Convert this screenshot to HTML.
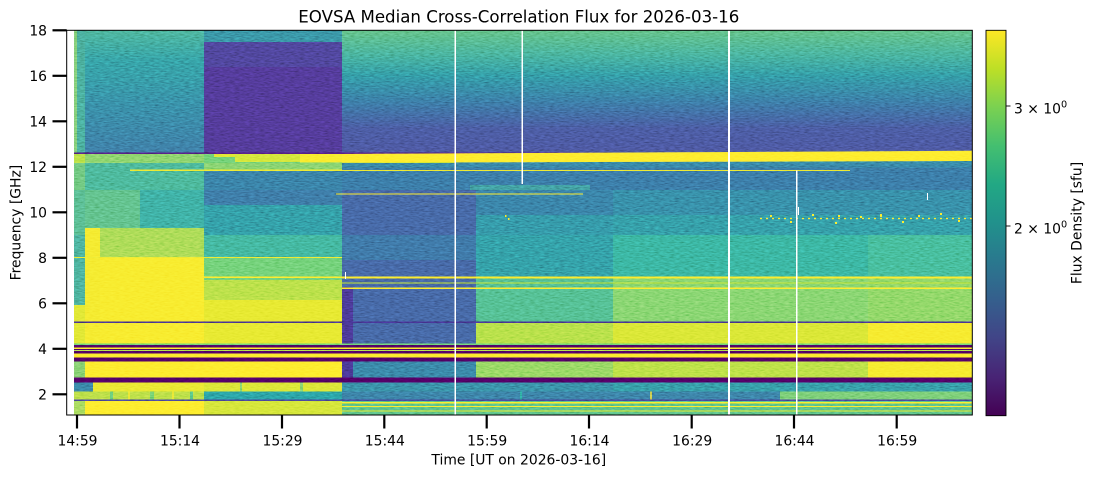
<!DOCTYPE html>
<html>
<head>
<meta charset="utf-8">
<style>
html,body{margin:0;padding:0;background:#fff;}
svg{display:block;}
text{font-family:"DejaVu Sans","Liberation Sans",sans-serif;fill:#000;}
</style>
</head>
<body>
<svg width="1093" height="477" viewBox="0 0 1093 477" xmlns="http://www.w3.org/2000/svg">
<defs>
<linearGradient id="vir" x1="0" y1="0" x2="0" y2="1">
<stop offset="0" stop-color="#fde725"/>
<stop offset="0.1" stop-color="#bddf26"/>
<stop offset="0.2" stop-color="#7ad151"/>
<stop offset="0.3" stop-color="#44bf70"/>
<stop offset="0.4" stop-color="#22a884"/>
<stop offset="0.5" stop-color="#21918c"/>
<stop offset="0.6" stop-color="#2a788e"/>
<stop offset="0.7" stop-color="#355f8d"/>
<stop offset="0.8" stop-color="#414487"/>
<stop offset="0.9" stop-color="#482475"/>
<stop offset="1" stop-color="#440154"/>
</linearGradient>
<linearGradient id="upR" gradientUnits="userSpaceOnUse" x1="0" y1="30" x2="0" y2="153">
<stop offset="0" stop-color="#52b06f"/>
<stop offset="0.2" stop-color="#3c9d81"/>
<stop offset="0.37" stop-color="#2a7f8c"/>
<stop offset="0.57" stop-color="#30688d"/>
<stop offset="0.8" stop-color="#3d4b87"/>
<stop offset="1" stop-color="#3f4886"/>
</linearGradient>
<linearGradient id="upB" gradientUnits="userSpaceOnUse" x1="0" y1="30" x2="0" y2="153">
<stop offset="0" stop-color="#40a07f"/>
<stop offset="0.25" stop-color="#2c868c"/>
<stop offset="0.6" stop-color="#2e758e"/>
<stop offset="1" stop-color="#33678d"/>
</linearGradient>
<filter id="nz" x="0" y="0" width="100%" height="100%">
<feTurbulence type="fractalNoise" baseFrequency="0.2 0.8" numOctaves="2" seed="7" result="t"/>
<feColorMatrix in="t" type="matrix" values="1 0 0 0 0  1 0 0 0 0  1 0 0 0 0  0 0 0 0 1"/>
</filter>
</defs>

<g shape-rendering="crispEdges">
<rect x="74" y="30" width="898" height="385" fill="#2c728e"/>

<!-- ===== Upper band 30-153 ===== -->
<rect x="74" y="30" width="3" height="123" fill="#6cbf63"/>
<rect x="77" y="30" width="8" height="123" fill="#3d9882"/>
<rect x="85" y="30" width="119" height="123" fill="url(#upB)"/>
<rect x="204" y="30" width="138" height="12" fill="#2f7a8c"/>
<rect x="204" y="42" width="138" height="25" fill="#41397f"/>
<rect x="204" y="67" width="138" height="86" fill="#44307d"/>
<rect x="342" y="30" width="630" height="123" fill="url(#upR)"/>

<rect x="74" y="152.5" width="898" height="1.5" fill="#46196e"/>

<!-- ===== Yellow band 153-163 ===== -->
<rect x="74" y="154" width="11" height="9" fill="#a6d83a"/>
<rect x="85" y="154" width="119" height="9" fill="#74c85a"/>
<rect x="204" y="154" width="138" height="9" fill="#5ec462"/>
<rect x="214" y="154" width="21" height="3" fill="#d8e12b"/>
<rect x="235" y="154" width="65" height="8" fill="#c8e030"/>
<rect x="300" y="154" width="42" height="8.5" fill="#f6e626"/>
</g>
<polygon points="342,154 972,150.8 972,161 342,162.7" fill="#fde725"/>
<polygon points="342,162.7 455,162.3 455,164.5 342,167.5" fill="#b5de2b"/>

<g shape-rendering="crispEdges">
<!-- ===== 163-190 ===== -->
<rect x="74" y="163" width="11" height="27" fill="#5db96a"/>
<rect x="85" y="163" width="119" height="27" fill="#3ea37e"/>
<rect x="204" y="163" width="138" height="7" fill="#6fc65c"/>
<rect x="204" y="171" width="138" height="19" fill="#2f6a8d"/>
<rect x="342" y="167.5" width="630" height="22.5" fill="#30658d"/>
<rect x="342" y="163" width="630" height="4.5" fill="#2e6f8e"/>
<rect x="130" y="169.5" width="212" height="1.5" fill="#e8e42a"/>
<rect x="342" y="169.8" width="508" height="1.2" fill="#e8e42a"/>
<rect x="470" y="185" width="120" height="7" fill="#3a9a83" opacity="0.6"/>

<!-- ===== 190-235 ===== -->
<rect x="74" y="190" width="11" height="45" fill="#4aaa78"/>
<rect x="85" y="190" width="55" height="38" fill="#50b073"/>
<rect x="140" y="190" width="64" height="45" fill="#33998a"/>
<rect x="204" y="190" width="138" height="15" fill="#32658d"/>
<rect x="204" y="205" width="138" height="30" fill="#2a828d"/>
<rect x="342" y="190" width="134" height="155" fill="#39558b"/>
<rect x="342" y="235" width="134" height="25" fill="#33628d"/>
<rect x="476" y="190" width="137" height="25" fill="#2f6b8e"/>
<rect x="476" y="215" width="137" height="20" fill="#2b7c8e"/>
<rect x="613" y="190" width="359" height="25" fill="#2d748e"/>
<rect x="613" y="215" width="359" height="20" fill="#2b808d"/>
<rect x="336" y="193.5" width="247" height="1.2" fill="#fde725"/>

<!-- ===== 235-345 ===== -->
<rect x="74" y="235" width="11" height="70" fill="#3f9c82"/>
<rect x="74" y="305" width="11" height="40" fill="#d8e12b"/>
<rect x="85" y="228" width="15" height="117" fill="#f2e527"/>
<rect x="100" y="228" width="104" height="30" fill="#93d147"/>
<rect x="100" y="258" width="104" height="87" fill="#f6e626"/>
<rect x="204" y="235" width="138" height="23" fill="#37a283"/>
<rect x="204" y="258" width="138" height="22" fill="#5ec463"/>
<rect x="204" y="280" width="138" height="20" fill="#a6d83c"/>
<rect x="204" y="300" width="138" height="45" fill="#e0e328"/>
<rect x="342" y="287" width="11" height="90" fill="#3e2f7c"/>
<rect x="476" y="235" width="137" height="43" fill="#2a838d"/>
<rect x="476" y="278" width="137" height="44" fill="#45ad78"/>
<rect x="476" y="322" width="137" height="23" fill="#a2d83c"/>
<rect x="613" y="235" width="255" height="43" fill="#30a086"/>
<rect x="613" y="278" width="255" height="44" fill="#6fc95c"/>
<rect x="613" y="322" width="255" height="23" fill="#cfe02c"/>
<rect x="868" y="235" width="104" height="43" fill="#3aaa7f"/>
<rect x="868" y="278" width="104" height="44" fill="#76cc55"/>
<rect x="868" y="322" width="104" height="23" fill="#f4e526"/>

<rect x="74" y="257" width="268" height="1.2" fill="#e9e52a"/>
<rect x="204" y="276.5" width="138" height="1.5" fill="#fde725"/>
<rect x="342" y="276.7" width="630" height="2" fill="#fde725"/>
<rect x="342" y="282.6" width="630" height="1" fill="#b5de2b"/>
<rect x="342" y="287.6" width="630" height="1.5" fill="#fde725"/>
<rect x="74" y="321.6" width="898" height="1.5" fill="#3a2a78"/>

<!-- ===== 4.2-3.4 GHz stripes ===== -->
<rect x="74" y="343.5" width="898" height="1.5" fill="#5ec962"/>
<rect x="74" y="345" width="898" height="2.5" fill="#440154"/>
<rect x="74" y="347.5" width="898" height="1.5" fill="#fde725"/>
<rect x="74" y="349" width="898" height="1" fill="#440154"/>
<rect x="74" y="350" width="898" height="1" fill="#9fd940"/>
<rect x="74" y="351" width="898" height="2.5" fill="#440154"/>
<rect x="74" y="353.5" width="898" height="4" fill="#fde725"/>
<rect x="74" y="357.5" width="898" height="4" fill="#440154"/>

<rect x="74" y="361.5" width="11" height="16.2" fill="#6fc35e"/>
<rect x="85" y="361.5" width="257" height="16.2" fill="#fde725"/>
<rect x="342" y="361.5" width="134" height="16.2" fill="#2f6f8e"/>
<rect x="342" y="361.5" width="11" height="16.2" fill="#3e2f7c"/>
<rect x="476" y="361.5" width="137" height="16.2" fill="#7ccd52"/>
<rect x="613" y="361.5" width="255" height="16.2" fill="#a8d93a"/>
<rect x="868" y="361.5" width="104" height="16.2" fill="#f4e526"/>

<rect x="74" y="377.7" width="898" height="5" fill="#440154"/>

<rect x="74" y="382.7" width="19" height="9" fill="#2f6e8e"/>
<rect x="93" y="382.7" width="111" height="9" fill="#e4e329"/>
<rect x="204" y="382.7" width="138" height="9" fill="#d0e02d"/>
<rect x="342" y="382.7" width="271" height="9" fill="#2f778e"/>
<rect x="613" y="382.7" width="359" height="9" fill="#2c808d"/>

<rect x="74" y="391.7" width="130" height="8" fill="#a8d63b"/>
<rect x="204" y="391.7" width="138" height="8" fill="#23888c"/>
<rect x="342" y="391.7" width="438" height="8" fill="#316b8e"/>
<rect x="780" y="391.7" width="192" height="8" fill="#66c162"/>

<rect x="74" y="399.7" width="898" height="1.3" fill="#3b3a80"/>

<rect x="74" y="401" width="11" height="14" fill="#8dd04d"/>
<rect x="85" y="401" width="119" height="14" fill="#fde725"/>
<rect x="204" y="401" width="138" height="14" fill="#c9df2f"/>
<rect x="342" y="401" width="630" height="14" fill="#4db371"/>
<rect x="342" y="402" width="630" height="1.5" fill="#fde725"/>
<rect x="342" y="406" width="630" height="1.2" fill="#fde725"/>
<rect x="342" y="410.5" width="630" height="1" fill="#e0e328"/>
</g>

<g shape-rendering="crispEdges" opacity="0.7">
<rect x="110" y="391.7" width="3" height="8" fill="#35b779"/>
<rect x="128" y="391.7" width="2" height="8" fill="#fde725"/>
<rect x="150" y="391.7" width="4" height="8" fill="#44bf70"/>
<rect x="172" y="391.7" width="2" height="8" fill="#fde725"/>
<rect x="190" y="391.7" width="3" height="8" fill="#22a884"/>
<rect x="240" y="382.7" width="2" height="9" fill="#44bf70"/>
<rect x="300" y="382.7" width="3" height="9" fill="#44bf70"/>
<rect x="520" y="391.7" width="2" height="8" fill="#22a884"/>
<rect x="650" y="391.7" width="2" height="8" fill="#fde725"/>
</g>

<line x1="760" y1="218.5" x2="972" y2="218.5" stroke="#fde725" stroke-width="1.3" stroke-dasharray="2 4"/>
<g fill="#fde725" shape-rendering="crispEdges">
<rect x="770" y="215" width="2" height="2"/><rect x="790" y="221" width="2" height="2"/>
<rect x="812" y="214" width="2" height="2"/><rect x="835" y="222" width="2" height="2"/>
<rect x="860" y="216" width="2" height="2"/><rect x="880" y="214" width="2" height="3"/>
<rect x="902" y="221" width="2" height="2"/><rect x="918" y="215" width="2" height="2"/>
<rect x="940" y="213" width="2" height="2"/><rect x="958" y="220" width="2" height="2"/>
<rect x="505" y="215" width="1.5" height="2"/><rect x="508" y="218" width="1.5" height="2"/>
<rect x="838" y="215" width="2" height="2"/>
</g>

<rect x="74" y="30" width="898" height="385" filter="url(#nz)" style="mix-blend-mode:overlay" opacity="0.55"/>

<g fill="#ffffff" shape-rendering="crispEdges">
<rect x="454.6" y="30" width="1.6" height="385"/>
<rect x="521.6" y="30" width="1.6" height="154"/>
<rect x="728" y="30" width="2" height="385"/>
<rect x="795.9" y="170.7" width="1.6" height="244.3"/>
<rect x="345" y="272" width="1" height="7"/>
<rect x="798" y="207" width="1" height="8"/>
<rect x="927" y="193" width="1" height="7"/>
</g>

<rect x="66.7" y="30.3" width="905.6" height="384.7" fill="none" stroke="#000" stroke-width="1"/>

<g stroke="#000" stroke-width="2.2">
<line x1="52.5" y1="30.3" x2="66.7" y2="30.3"/>
<line x1="52.5" y1="75.8" x2="66.7" y2="75.8"/>
<line x1="52.5" y1="121.3" x2="66.7" y2="121.3"/>
<line x1="52.5" y1="166.8" x2="66.7" y2="166.8"/>
<line x1="52.5" y1="212.3" x2="66.7" y2="212.3"/>
<line x1="52.5" y1="257.8" x2="66.7" y2="257.8"/>
<line x1="52.5" y1="303.3" x2="66.7" y2="303.3"/>
<line x1="52.5" y1="348.8" x2="66.7" y2="348.8"/>
<line x1="52.5" y1="394.3" x2="66.7" y2="394.3"/>
</g>
<g font-size="13.9" text-anchor="end">
<text x="47" y="35.5">18</text>
<text x="47" y="81">16</text>
<text x="47" y="126.5">14</text>
<text x="47" y="172">12</text>
<text x="47" y="217.5">10</text>
<text x="47" y="263">8</text>
<text x="47" y="308.5">6</text>
<text x="47" y="354">4</text>
<text x="47" y="399.5">2</text>
</g>

<g stroke="#000" stroke-width="2.2">
<line x1="77" y1="415" x2="77" y2="428.5"/>
<line x1="179.5" y1="415" x2="179.5" y2="428.5"/>
<line x1="282" y1="415" x2="282" y2="428.5"/>
<line x1="384.3" y1="415" x2="384.3" y2="428.5"/>
<line x1="486.7" y1="415" x2="486.7" y2="428.5"/>
<line x1="589" y1="415" x2="589" y2="428.5"/>
<line x1="691.7" y1="415" x2="691.7" y2="428.5"/>
<line x1="794" y1="415" x2="794" y2="428.5"/>
<line x1="896.7" y1="415" x2="896.7" y2="428.5"/>
</g>
<g font-size="13.9" text-anchor="middle">
<text x="77.5" y="445.5">14:59</text>
<text x="180" y="445.5">15:14</text>
<text x="282.5" y="445.5">15:29</text>
<text x="384.8" y="445.5">15:44</text>
<text x="487.2" y="445.5">15:59</text>
<text x="589.5" y="445.5">16:14</text>
<text x="692.2" y="445.5">16:29</text>
<text x="794.5" y="445.5">16:44</text>
<text x="897.2" y="445.5">16:59</text>
</g>

<text x="518.8" y="464.4" font-size="13.9" text-anchor="middle">Time [UT on 2026-03-16]</text>
<text transform="translate(20.5,222.6) rotate(-90)" font-size="13.9" text-anchor="middle">Frequency [GHz]</text>
<text x="518.8" y="22.3" font-size="16.7" text-anchor="middle" textLength="441" lengthAdjust="spacingAndGlyphs">EOVSA Median Cross-Correlation Flux for 2026-03-16</text>

<rect x="986" y="30.3" width="20" height="385.4" fill="url(#vir)"/>
<rect x="986" y="30.3" width="20" height="385.4" fill="none" stroke="#000" stroke-width="0.9"/>
<g stroke="#000" stroke-width="0.9">
<line x1="1006" y1="106" x2="1010.5" y2="106"/>
<line x1="1006" y1="226" x2="1010.5" y2="226"/>
</g>
<g font-size="13.9">
<text x="1014" y="113.3">3 × 10<tspan font-size="9.7" dy="-6">0</tspan></text>
<text x="1014" y="233.3">2 × 10<tspan font-size="9.7" dy="-6">0</tspan></text>
</g>
<text transform="translate(1081.5,223) rotate(-90)" font-size="13.9" text-anchor="middle">Flux Density [sfu]</text>
</svg>
</body>
</html>
